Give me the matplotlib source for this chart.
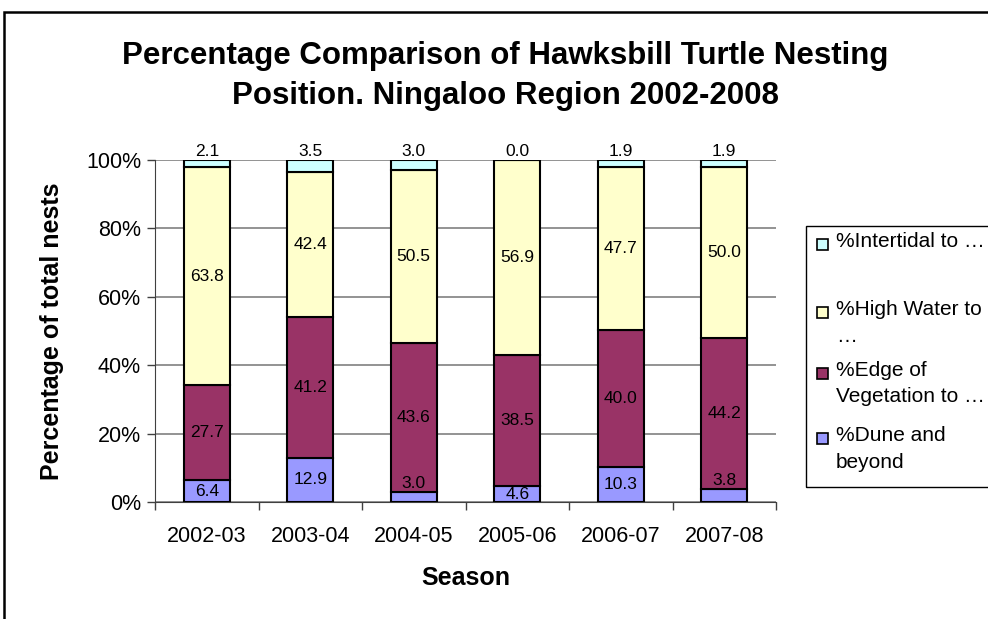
import matplotlib
matplotlib.use("Agg")
import matplotlib.pyplot as plt
from matplotlib.patches import Rectangle
import numpy as np

plt.rcParams['font.family'] = ['Liberation Sans', 'DejaVu Sans']

seasons = ["2002-03", "2003-04", "2004-05", "2005-06", "2006-07", "2007-08"]
dune = [6.4, 12.9, 3.0, 4.6, 10.3, 3.8]
edge_veg = [27.7, 41.2, 43.6, 38.5, 40.0, 44.2]
high_water = [63.8, 42.4, 50.5, 56.9, 47.7, 50.0]
intertidal = [2.1, 3.5, 3.0, 0.0, 1.9, 1.9]

series_names = ["%Dune and\nbeyond", "%Edge of\nVegetation to …",
                "%High Water to\n…", "%Intertidal to …\n "]
series_values = [dune, edge_veg, high_water, intertidal]
series_colors = ["#9999FF", "#993366", "#FFFFCC", "#CCFFFF"]
y_ticks = [0, 20, 40, 60, 80, 100]

fig = plt.figure(figsize=(9.88, 6.19), dpi=100)
ax = fig.add_axes([155 / 988, 1 - 502 / 619, 621 / 988, 342 / 619])

x = np.arange(len(seasons))
bottom = np.zeros(len(seasons))
for i, (vals, col) in enumerate(zip(series_values, series_colors)):
    vals = np.array(vals)
    ax.bar(x, vals, 0.44, bottom=bottom, color=col, edgecolor="black",
           linewidth=1.5, zorder=3)
    for xi, b, v in zip(x, bottom, vals):
        txt = f"{v:.1f}"
        if i == 3:
            ax.text(xi, 100.2, txt, ha="center", va="bottom", fontsize=12.5, zorder=4)
        elif v < 4:
            ax.text(xi, b + v + 0.2, txt, ha="center", va="bottom", fontsize=12.5, zorder=4)
        else:
            ax.text(xi, b + v / 2, txt, ha="center", va="center", fontsize=12.5, zorder=4)
    bottom = bottom + vals

ax.set_xlim(-0.5, len(seasons) - 0.5)
ax.set_ylim(0, 100)
ax.set_yticks(y_ticks)
ax.set_yticklabels([f"{t}%" for t in y_ticks], fontsize=15.5)
ax.yaxis.grid(True, color="#808080", linewidth=1.2, zorder=0)
ax.set_axisbelow(True)

ax.set_xticks(x)
ax.set_xticklabels(seasons, fontsize=15.5)
ax.set_xticks(np.arange(-0.5, len(seasons)), minor=True)
ax.tick_params(axis="x", which="major", length=0, pad=17)
ax.tick_params(axis="x", which="minor", length=6, width=1, color="#404040")
ax.tick_params(axis="y", length=6, width=1, color="#404040", pad=4)

for s in ["top", "right"]:
    ax.spines[s].set_visible(False)
ax.spines["left"].set_color("#404040")
ax.spines["bottom"].set_color("#404040")

ax.set_ylabel("Percentage of total nests", fontsize=18, fontweight="bold", labelpad=16)
ax.set_xlabel("Season", fontsize=18, fontweight="bold", labelpad=14)

fig.text(505 / 988, 1 - 76 / 619,
         "Percentage Comparison of Hawksbill Turtle Nesting\nPosition. Ningaloo Region 2002-2008",
         ha="center", va="center", fontsize=22.5, fontweight="bold", linespacing=1.45)

# outer chart frame
fig.patches.append(Rectangle((4 / 988, -0.05), 1.1, 1 - 12 / 619 + 0.05,
                             transform=fig.transFigure, fill=False,
                             edgecolor="black", linewidth=1.8, zorder=0))

# legend box drawn by hand so swatches sit on the first text line
leg_x0, leg_y0, leg_y1 = 806 / 988, 1 - 487 / 619, 1 - 226 / 619
fig.patches.append(Rectangle((leg_x0, leg_y0), 0.3, leg_y1 - leg_y0,
                             transform=fig.transFigure, fill=False,
                             edgecolor="black", linewidth=1.0))
first_line_y = [244, 312, 373, 438]
for (name, col), yy in zip(reversed(list(zip(series_names, series_colors))), first_line_y):
    fig.patches.append(Rectangle((817 / 988, 1 - (yy + 6) / 619), 11 / 988, 11 / 619,
                                 transform=fig.transFigure, facecolor=col,
                                 edgecolor="black", linewidth=1.2))
    fig.text(836 / 988, 1 - (yy - 12) / 619, name, ha="left", va="top",
             fontsize=15, linespacing=1.5)

fig.savefig("out.png", dpi=100)
